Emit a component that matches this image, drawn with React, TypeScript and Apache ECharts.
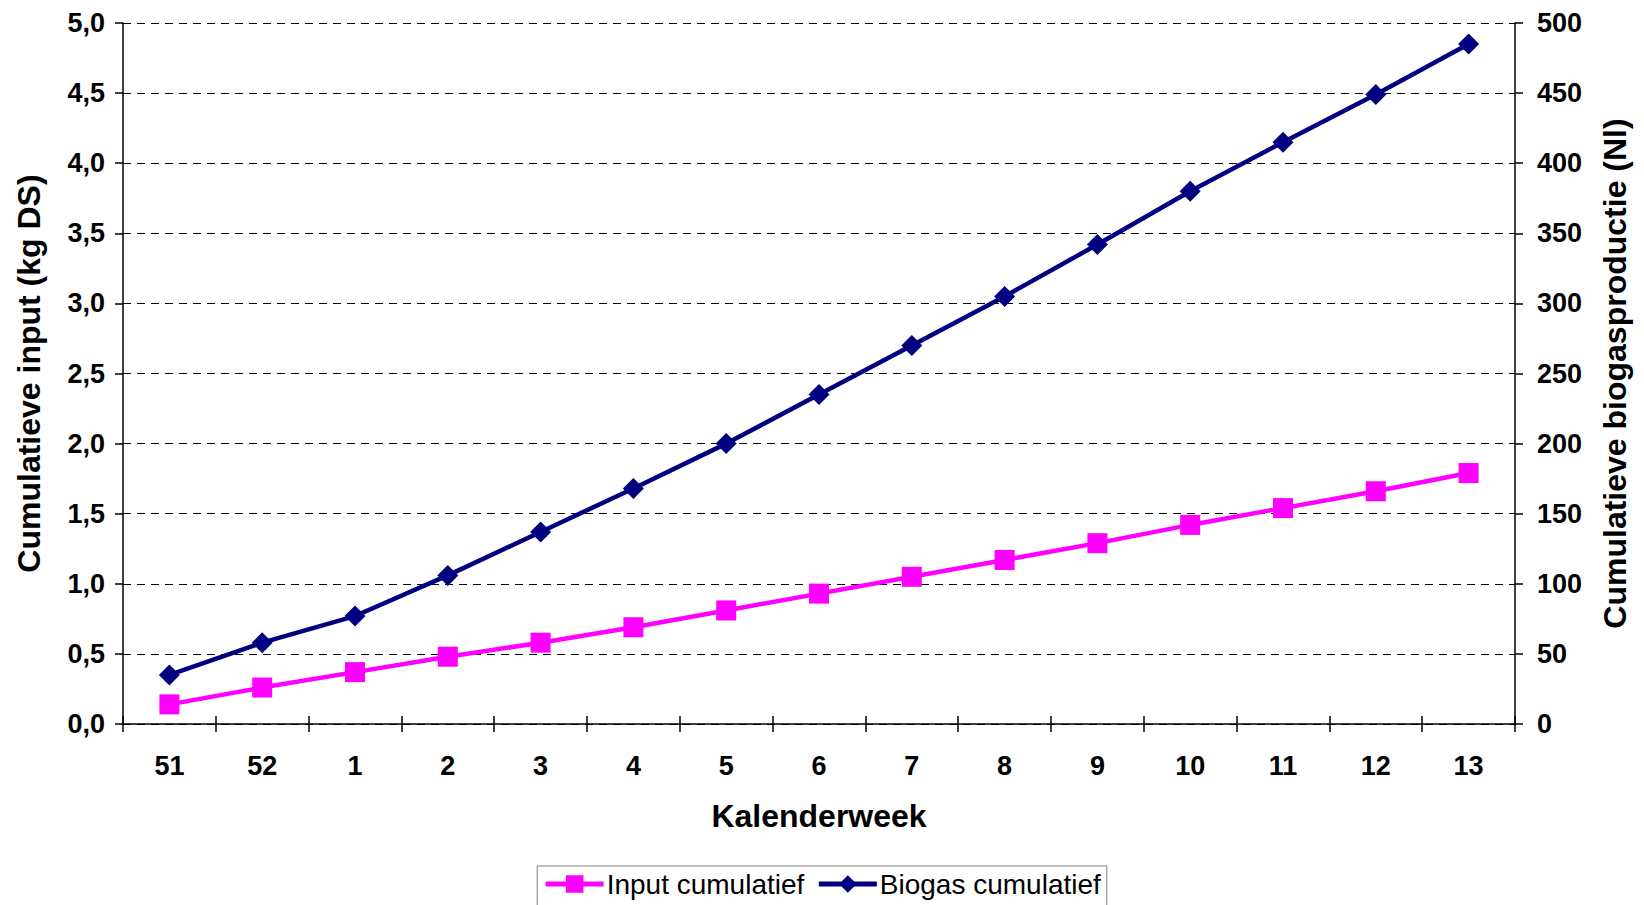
import React, { useEffect, useRef } from "react";
import * as echarts from "echarts";

const weeks = ["51", "52", "1", "2", "3", "4", "5", "6", "7", "8", "9", "10", "11", "12", "13"];
const inputCumulatief = [0.14, 0.26, 0.37, 0.48, 0.58, 0.69, 0.81, 0.93, 1.05, 1.17, 1.29, 1.42, 1.54, 1.66, 1.79];
const biogasCumulatief = [35, 58, 77, 106, 137, 168, 200, 235, 270, 305, 342, 380, 415, 449, 485];

const FONT = "Arial, 'Liberation Sans', sans-serif";

export default function App() {
  const ref = useRef<HTMLDivElement>(null);
  useEffect(() => {
    if (!ref.current) return;
    const chart = echarts.init(ref.current, null, { renderer: "svg" });
    const axisLine = { show: true, lineStyle: { color: "#000", width: 1.5 } };
    chart.setOption({
      animation: false,
      backgroundColor: "#fff",
      textStyle: { fontFamily: FONT },
      grid: { left: 123, right: 129, top: 23, bottom: 181 },
      legend: {
        data: ["Input cumulatief", "Biogas cumulatief"],
        left: "center",
        top: 866,
        orient: "horizontal",
        itemWidth: 58,
        itemHeight: 22,
        itemGap: 12,
        padding: [4, 6, 10, 6],
        borderColor: "#808080",
        borderWidth: 1,
        lineStyle: { width: 5 },
        textStyle: { fontFamily: FONT, fontSize: 28, color: "#000", padding: [0, 0, 0, -2] },
      },
      xAxis: [
        {
          type: "category",
          data: weeks,
          position: "bottom",
          boundaryGap: true,
          axisLine,
          axisTick: { show: true, inside: false, length: 8, lineStyle: { color: "#000", width: 1.5 } },
          axisLabel: { margin: 28, fontFamily: FONT, fontSize: 27, fontWeight: "bold", color: "#000" },
          splitLine: { show: false },
          name: "Kalenderweek",
          nameLocation: "middle",
          nameGap: 76,
          nameTextStyle: { fontFamily: FONT, fontSize: 32, fontWeight: "bold", color: "#000" },
        },
        {
          type: "category",
          data: weeks,
          position: "bottom",
          boundaryGap: true,
          axisLine: { show: false },
          axisTick: { show: true, inside: true, length: 8, lineStyle: { color: "#000", width: 1.5 } },
          axisLabel: { show: false },
          splitLine: { show: false },
        },
      ],
      yAxis: [
        {
          type: "value",
          position: "left",
          min: 0,
          max: 5,
          interval: 0.5,
          axisLine,
          axisTick: { show: true, inside: false, length: 8, lineStyle: { color: "#000", width: 1.5 } },
          axisLabel: {
            margin: 18,
            fontFamily: FONT,
            fontSize: 27,
            fontWeight: "bold",
            color: "#000",
            formatter: (v: number) => v.toFixed(1).replace(".", ","),
          },
          splitLine: { show: true, lineStyle: { color: "#000", width: 1, type: [8, 6] } },
          name: "Cumulatieve input (kg DS)",
          nameLocation: "middle",
          nameGap: 78,
          nameTextStyle: { fontFamily: FONT, fontSize: 32, fontWeight: "bold", color: "#000" },
        },
        {
          type: "value",
          position: "right",
          min: 0,
          max: 500,
          interval: 50,
          axisLine,
          axisTick: { show: true, inside: false, length: 8, lineStyle: { color: "#000", width: 1.5 } },
          axisLabel: { margin: 22, fontFamily: FONT, fontSize: 27, fontWeight: "bold", color: "#000" },
          splitLine: { show: false },
          name: "Cumulatieve biogasproductie (Nl)",
          nameLocation: "middle",
          nameGap: 84,
          nameTextStyle: { fontFamily: FONT, fontSize: 32, fontWeight: "bold", color: "#000" },
        },
      ],
      series: [
        {
          name: "Input cumulatief",
          type: "line",
          xAxisIndex: 0,
          yAxisIndex: 0,
          data: inputCumulatief,
          symbol: "rect",
          symbolSize: 20,
          lineStyle: { color: "#FF00FF", width: 4.5 },
          itemStyle: { color: "#FF00FF" },
          z: 3,
        },
        {
          name: "Biogas cumulatief",
          type: "line",
          xAxisIndex: 0,
          yAxisIndex: 1,
          data: biogasCumulatief,
          symbol: "diamond",
          symbolSize: 21,
          lineStyle: { color: "#000080", width: 4.5 },
          itemStyle: { color: "#000080" },
          z: 4,
        },
      ],
    });
    return () => chart.dispose();
  }, []);
  return <div ref={ref} style={{ position: "absolute", left: 0, top: 0, width: 1644, height: 905 }} />;
}
